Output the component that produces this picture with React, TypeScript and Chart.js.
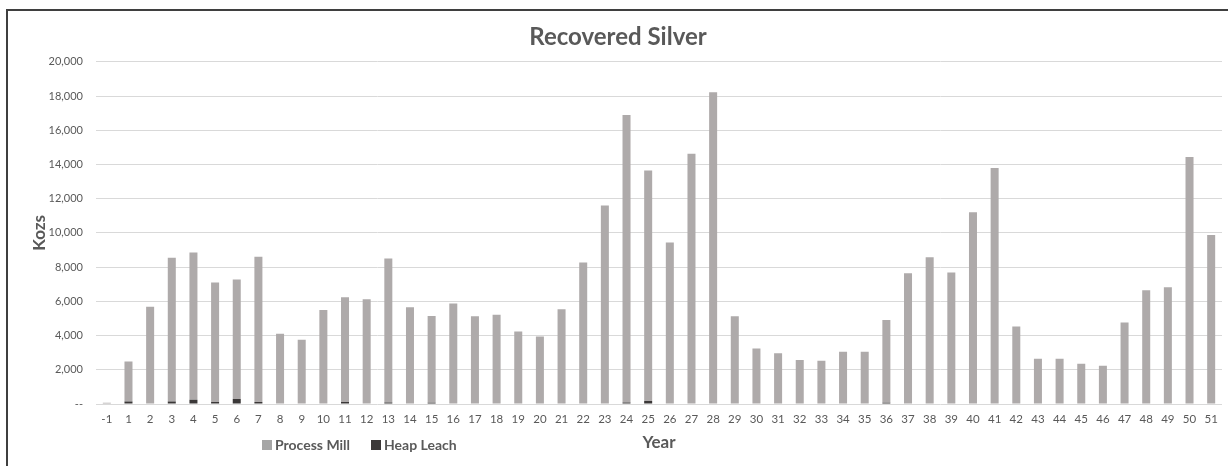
import React, { useEffect, useRef } from 'react';
import { Chart, registerables } from 'chart.js';

Chart.register(...registerables);

const chartTitle = 'Recovered Silver';
const xAxisTitle = 'Year';
const yAxisTitle = 'Kozs';

const years = [
  '-1', '1', '2', '3', '4', '5', '6', '7', '8', '9', '10', '11', '12', '13', '14', '15', '16', '17',
  '18', '19', '20', '21', '22', '23', '24', '25', '26', '27', '28', '29', '30', '31', '32', '33', '34',
  '35', '36', '37', '38', '39', '40', '41', '42', '43', '44', '45', '46', '47', '48', '49', '50', '51',
];

const processMill = [
  80, 2340, 5690, 8400, 8610, 6990, 6990, 8500, 4100, 3750, 5490, 6125, 6120, 8420, 5650, 5060, 5880, 5130,
  5210, 4230, 3940, 5545, 8270, 11600, 16800, 13480, 9440, 14630, 18220, 5130, 3250, 2960, 2570, 2530, 3060,
  3060, 4840, 7640, 8580, 7690, 11210, 13800, 4530, 2650, 2650, 2355, 2240, 4770, 6650, 6830, 14430, 9870,
];

const heapLeach = [
  0, 150, 0, 150, 250, 110, 290, 110, 0, 0, 0, 110, 0, 90, 0, 80, 0, 0,
  0, 0, 0, 0, 0, 0, 90, 170, 0, 0, 0, 0, 0, 0, 0, 0, 0,
  0, 70, 0, 0, 0, 0, 0, 0, 0, 0, 0, 0, 0, 0, 0, 0, 0,
];

const seriesNames = ['Process Mill', 'Heap Leach'];
const yMin = 0;
const yMax = 20000;
const yStep = 2000;

const millColor = '#AEAAAA';
const heapColor = '#3B3838';
const textColor = '#595959';
const fontFamily = 'Lato, "Open Sans", sans-serif';

export default function App() {
  const canvasRef = useRef<HTMLCanvasElement | null>(null);

  useEffect(() => {
    document.body.style.margin = '0';
    const canvas = canvasRef.current;
    if (!canvas) return;
    const chart = new Chart(canvas, {
      type: 'bar',
      data: {
        labels: years,
        datasets: [
          {
            label: seriesNames[1],
            data: heapLeach,
            backgroundColor: heapColor,
            barPercentage: 0.37,
            categoryPercentage: 1,
            borderWidth: 0,
          },
          {
            label: seriesNames[0],
            data: processMill,
            backgroundColor: millColor,
            barPercentage: 0.37,
            categoryPercentage: 1,
            borderWidth: 0,
          },
        ],
      },
      options: {
        animation: false,
        responsive: false,
        maintainAspectRatio: false,
        layout: { padding: { left: 0, right: 6, top: 0, bottom: 0 } },
        plugins: {
          legend: { display: false },
          tooltip: { enabled: false },
          title: {
            display: true,
            text: chartTitle,
            color: textColor,
            font: { family: fontFamily, size: 24, weight: 'bold' },
            padding: { top: 23, bottom: 10 },
          },
        },
        scales: {
          x: {
            stacked: true,
            grid: { display: false, drawTicks: false },
            border: { display: false },
            ticks: {
              color: textColor,
              font: { family: fontFamily, size: 11.5 },
              padding: 8,
              maxRotation: 0,
              autoSkip: false,
            },
            title: {
              display: true,
              text: xAxisTitle,
              color: textColor,
              font: { family: fontFamily, size: 17, weight: 'bold' },
              padding: { top: 4, bottom: 13 },
            },
            afterFit: (scale: any) => {
              scale.height = 62;
            },
          },
          y: {
            stacked: true,
            min: yMin,
            max: yMax,
            grid: { color: '#D9D9D9', lineWidth: 1, drawTicks: false },
            border: { display: false },
            ticks: {
              stepSize: yStep,
              color: textColor,
              font: { family: fontFamily, size: 11 },
              padding: 13,
              callback: (v: any) => (Number(v) === 0 ? '--' : Number(v).toLocaleString('en-US')),
            },
            title: {
              display: true,
              text: yAxisTitle,
              color: textColor,
              font: { family: fontFamily, size: 17, weight: 'bold' },
              padding: { top: 15, bottom: 0 },
            },
            afterFit: (scale: any) => {
              scale.width = 82;
            },
          },
        },
      },
    });
    return () => chart.destroy();
  }, []);

  const legendText: React.CSSProperties = {
    position: 'absolute',
    top: 436,
    fontFamily,
    fontWeight: 'bold',
    fontSize: 14,
    color: textColor,
    lineHeight: '18px',
    whiteSpace: 'nowrap',
  };
  const swatch = (left: number, color: string): React.CSSProperties => ({
    position: 'absolute',
    left,
    top: 440,
    width: 10,
    height: 10,
    background: color,
  });

  return (
    <div style={{ position: 'relative', width: 1228, height: 466, background: '#fff', overflow: 'hidden' }}>
      <div
        style={{
          position: 'absolute',
          left: 6,
          top: 9,
          right: -4,
          bottom: -4,
          borderLeft: '2px solid #3f3f3f',
          borderTop: '2px solid #3f3f3f',
        }}
      />
      <canvas
        ref={canvasRef}
        width={1214}
        height={466}
        style={{ position: 'absolute', left: 14, top: 0, width: 1214, height: 466 }}
      />
      <div style={swatch(262, '#A5A5A5')} />
      <div style={{ ...legendText, left: 275 }}>{seriesNames[0]}</div>
      <div style={swatch(371, heapColor)} />
      <div style={{ ...legendText, left: 384 }}>{seriesNames[1]}</div>
    </div>
  );
}
